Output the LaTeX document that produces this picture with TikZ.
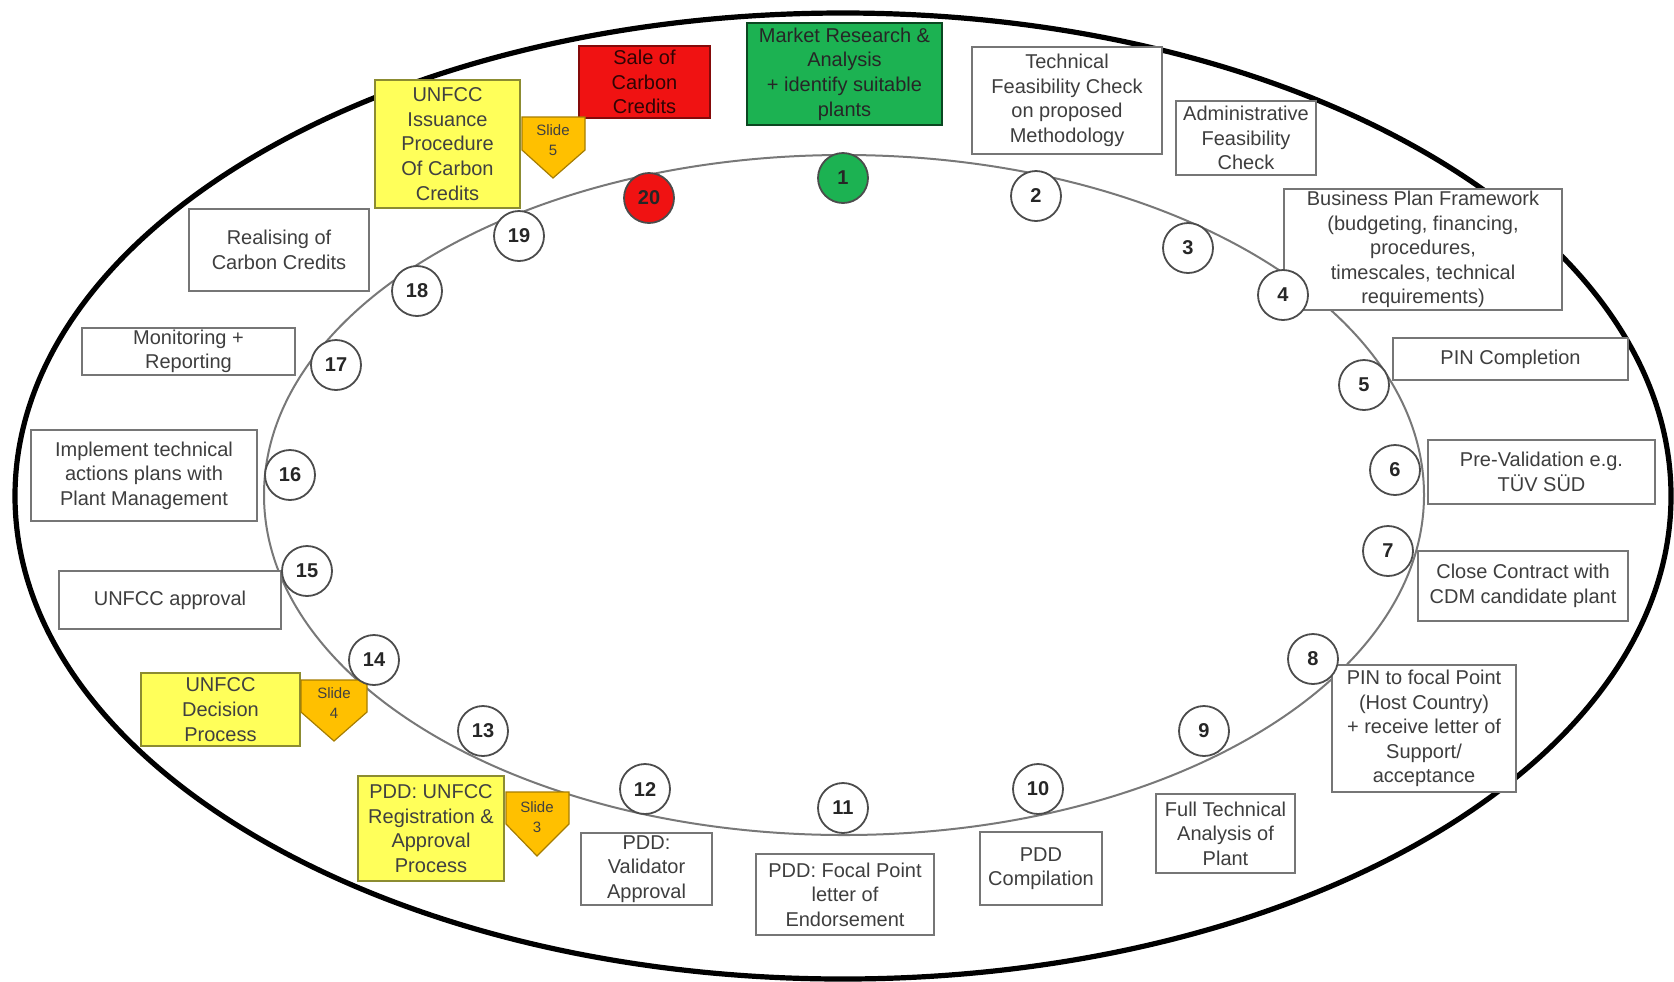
\documentclass[tikz,border=0pt]{standalone}
\usepackage{fontspec}
\setmainfont{Liberation Sans}
\definecolor{grnf}{RGB}{28,178,82}
\definecolor{redf}{RGB}{240,18,18}
\definecolor{yelf}{RGB}{255,255,90}
\definecolor{goldf}{RGB}{255,192,0}
\definecolor{bgray}{RGB}{118,118,118}
\definecolor{tgray}{RGB}{62,62,62}
\definecolor{igray}{RGB}{120,120,120}
\newcommand\bx[7]{%
  \node[#6, minimum width={0.5*(#4-#2)}, minimum height={0.5*(#5-#3)}] (#1) at ({(#2+#4)/2},{(#3+#5)/2}) {#7};}
\newcommand\slidetag[7]{% name, left, right, top, shoulder, pointx, pointy
  \path[tagshape] (#2,#4) -- (#3,#4) -- (#3,#5) -- (#6,#7) -- (#2,#5) -- cycle;}
\begin{document}
\begin{tikzpicture}[x=0.5pt,y=-0.5pt,
  box/.style={draw=bgray, line width=1.3pt, fill=white, align=center, text=tgray,
    font=\fontsize{10}{12.3}\selectfont, inner sep=1pt},
  greenbox/.style={box, fill=grnf, draw=black!60!grnf, text=black!85},
  redbox/.style={box, fill=redf, draw=black!45!redf, text=black!80!redf},
  yellowbox/.style={box, fill=yelf, draw=black!45!yelf, text=black!75},
  num/.style={circle, draw=black!70, line width=0.9pt, fill=white, minimum size=25pt,
    inner sep=0pt, font=\fontsize{10}{12}\selectfont\bfseries, text=black!85},
  tagshape/.style={fill=goldf, draw=black!35!goldf, line width=0.6pt},
  tagtext/.style={align=center, font=\fontsize{7.5}{10}\selectfont, text=black!75, inner sep=0pt},
  outer/.style={line width=2.6pt, draw=black},
  inner/.style={line width=1pt, draw=igray}]
\useasboundingbox (0,0) rectangle (1674,981);
% ellipses
\draw[outer] (843,496) ellipse [x radius=414pt, y radius=241.5pt];
\draw[inner] (844,495) ellipse [x radius=290pt, y radius=170pt];
% boxes
\bx{b1}{747}{23}{942}{125}{greenbox}{Market Research \&\\Analysis\\+ identify suitable\\plants}
\bx{b20}{579}{46}{710}{118}{redbox}{Sale of\\Carbon\\Credits}
\bx{b19y}{375}{80}{520}{208}{yellowbox}{UNFCC\\Issuance\\Procedure\\Of Carbon\\Credits}
\bx{b2}{972}{47}{1162}{154}{box}{Technical\\Feasibility Check\\on proposed\\Methodology}
\bx{b3}{1176}{101}{1316}{175}{box}{Administrative\\Feasibility\\Check}
\bx{b4}{1284}{189}{1562}{310}{box}{Business Plan Framework\\(budgeting, financing,\\procedures,\\timescales, technical\\requirements)}
\bx{b5}{1393}{338}{1628}{380}{box}{PIN Completion}
\bx{b6}{1428}{440}{1655}{504}{box}{Pre-Validation e.g.\\TÜV SÜD}
\bx{b7}{1418}{551}{1628}{621}{box}{Close Contract with\\CDM candidate plant}
\bx{b8}{1332}{665}{1516}{792}{box}{PIN to focal Point\\(Host Country)\\+ receive letter of\\Support/\\acceptance}
\bx{b9}{1156}{794}{1295}{873}{box}{Full Technical\\Analysis of\\Plant}
\bx{b10}{980}{832}{1102}{905}{box}{PDD\\Compilation}
\bx{b11}{756}{854}{934}{935}{box}{PDD: Focal Point\\letter of\\Endorsement}
\bx{b12}{581}{833}{712}{905}{box}{PDD:\\Validator\\Approval}
\bx{b13}{358}{776}{504}{881}{yellowbox}{PDD: UNFCC\\Registration \&\\Approval\\Process}
\bx{b14}{141}{673}{300}{746}{yellowbox}{UNFCC\\Decision\\Process}
\bx{b15}{59}{571}{281}{629}{box}{UNFCC approval}
\bx{b16}{31}{430}{257}{521}{box}{Implement technical\\actions plans with\\Plant Management}
\bx{b17}{82}{328}{295}{375}{box}{Monitoring +\\Reporting}
\bx{b18}{189}{209}{369}{291}{box}{Realising of\\Carbon Credits}
% slide tags
\slidetag{t5}{522}{585}{117}{150}{553}{178}
\node[tagtext] (t5) at (553,140) {Slide\\5};
\slidetag{t4}{301}{367}{680}{712}{334}{741}
\node[tagtext] (t4) at (334,703) {Slide\\4};
\slidetag{t3}{506}{569}{792}{824}{537}{856}
\node[tagtext] (t3) at (537,817) {Slide\\3};
% numbered circles
\node[num, fill=grnf] (c1) at (843,178) {1};
\node[num] (c2) at (1036,196) {2};
\node[num] (c3) at (1188,248) {3};
\node[num] (c4) at (1283,295) {4};
\node[num] (c5) at (1364,385) {5};
\node[num] (c6) at (1395,470) {6};
\node[num] (c7) at (1388,551) {7};
\node[num] (c8) at (1313,659) {8};
\node[num] (c9) at (1204,731) {9};
\node[num] (c10) at (1038,789) {10};
\node[num] (c11) at (843,808) {11};
\node[num] (c12) at (645,789) {12};
\node[num] (c13) at (483,731) {13};
\node[num] (c14) at (374,660) {14};
\node[num] (c15) at (307,571) {15};
\node[num] (c16) at (290,475) {16};
\node[num] (c17) at (336,365) {17};
\node[num] (c18) at (417,291) {18};
\node[num] (c19) at (519,236) {19};
\node[num, fill=redf] (c20) at (649,198) {20};
\end{tikzpicture}
\end{document}
